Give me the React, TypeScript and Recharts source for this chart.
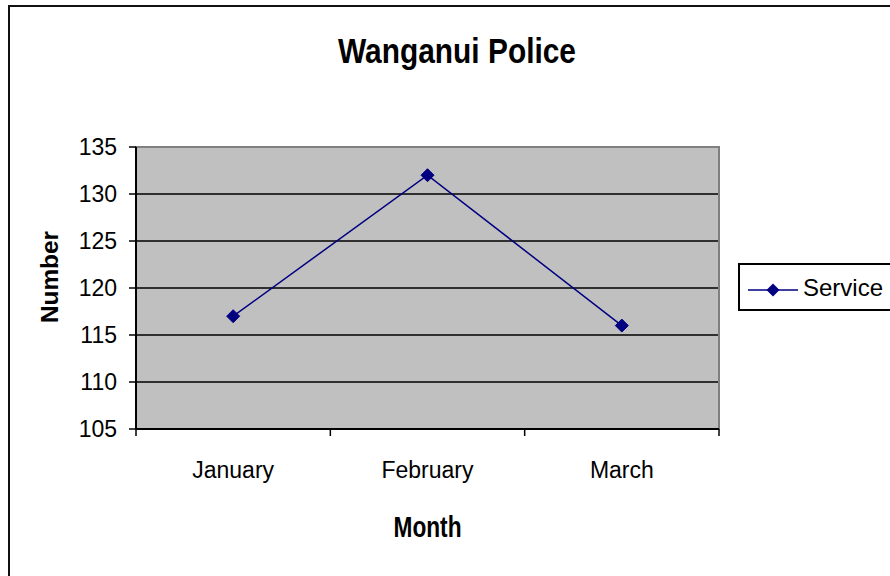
import { LineChart, Line, XAxis, YAxis, CartesianGrid, Legend, ReferenceArea } from 'recharts';

// values
const months = ['January', 'February', 'March'];
const service = [117, 132, 116];
const yTicks = [105, 110, 115, 120, 125, 130, 135];
const gridValues = [110, 115, 120, 125, 130];

const data = months.map((month, i) => ({ month, service: service[i] }));

const FONT = '"Liberation Sans", Arial, sans-serif';
const NAVY = '#000080';

// diamond marker like the old Excel series
const Diamond = (props: any) => {
  const { cx, cy } = props;
  if (cx == null || cy == null) return null;
  const r = 6.5;
  return <polygon points={`${cx},${cy - r} ${cx + r},${cy} ${cx},${cy + r} ${cx - r},${cy}`} fill={NAVY} stroke={NAVY} strokeWidth={1} />;
};

// category label in the middle, tick marks on the band edges
const MonthTick = (props: any) => {
  const { x, y, payload, index, visibleTicksCount } = props;
  const half = payload.offset || 0;
  const axisY = y - 33;
  const last = index === (visibleTicksCount ?? months.length) - 1;
  return (
    <g>
      <line x1={x - half} x2={x - half} y1={axisY} y2={axisY + 7} stroke="#000" strokeWidth={1.5} />
      {last && <line x1={x + half} x2={x + half} y1={axisY} y2={axisY + 7} stroke="#000" strokeWidth={1.5} />}
      <text x={x} y={y} dy="0.71em" textAnchor="middle" fontFamily={FONT} fontSize={23} fill="#000">
        {payload.value}
      </text>
    </g>
  );
};

const LegendBox = () => (
  <div
    style={{
      border: '2px solid #000',
      width: 170,
      height: 48,
      boxSizing: 'border-box',
      background: '#fff',
      display: 'flex',
      alignItems: 'center',
    }}
  >
    <svg width={60} height={44}>
      <line x1={8} x2={58} y1={25} y2={25} stroke={NAVY} strokeWidth={1.5} />
      <polygon points="33,18.5 39.5,25 33,31.5 26.5,25" fill={NAVY} />
    </svg>
    <span style={{ fontFamily: FONT, fontSize: 24, color: '#000', marginLeft: 3, marginTop: 1 }}>Service</span>
  </div>
);

export default function App() {
  return (
    <div style={{ position: 'fixed', left: 0, top: 0, width: 890, height: 576, overflow: 'hidden', background: '#fff' }}>
      {/* outer chart-area border, cut off at the right and bottom */}
      <div style={{ position: 'absolute', left: 8, top: 5, width: 1000, height: 1000, border: '2.5px solid #111' }} />
      <div style={{ position: 'absolute', left: 0, top: 0 }}>
        <LineChart width={890} height={576} data={data} margin={{ top: 147, right: 171, bottom: 47, left: 0 }}>
          <text x={457} y={63} textAnchor="middle" fontFamily={FONT} fontSize={35} fontWeight="bold" textLength={238} lengthAdjust="spacingAndGlyphs" fill="#000">
            Wanganui Police
          </text>
          <CartesianGrid fill="#c0c0c0" vertical={false} horizontalValues={gridValues} stroke="#000" strokeWidth={1.5} strokeOpacity={1} />
          <ReferenceArea y1={105} y2={135} fill="none" stroke="#808080" strokeWidth={2} ifOverflow="visible" />
          <XAxis
            dataKey="month"
            scale="band"
            height={100}
            tickLine={false}
            tickSize={0}
            tickMargin={33}
            axisLine={{ stroke: '#000', strokeWidth: 2 }}
            tick={<MonthTick />}
            interval={0}
            label={{
              content: (p: any) => {
                const vb = p.viewBox || {};
                return (
                  <text x={vb.x + vb.width / 2} y={vb.y + 108} textAnchor="middle" fontFamily={FONT} fontSize={29} fontWeight="bold" textLength={68} lengthAdjust="spacingAndGlyphs" fill="#000">
                    Month
                  </text>
                );
              },
            }}
          />
          <YAxis
            domain={[105, 135]}
            ticks={yTicks}
            width={136}
            tickSize={7}
            tickMargin={12}
            tickLine={{ stroke: '#000', strokeWidth: 1.5 }}
            axisLine={{ stroke: '#000', strokeWidth: 2 }}
            tick={{ fontFamily: FONT, fontSize: 23, fill: '#000' }}
            allowDataOverflow
            label={{
              content: (p: any) => {
                const vb = p.viewBox || {};
                const cy = vb.y + vb.height / 2 - 11;
                return (
                  <text x={58} y={cy} transform={`rotate(-90 58 ${cy})`} textAnchor="middle" fontFamily={FONT} fontSize={23} fontWeight="bold" textLength={92} lengthAdjust="spacingAndGlyphs" fill="#000">
                    Number
                  </text>
                );
              },
            }}
          />
          <Legend
            layout="horizontal"
            verticalAlign="middle"
            align="center"
            wrapperStyle={{ left: 738, top: 263, width: 170, height: 48 }}
            content={() => <LegendBox />}
          />
          <Line
            dataKey="service"
            name="Service"
            stroke={NAVY}
            strokeWidth={1.5}
            dot={<Diamond />}
            activeDot={false}
            isAnimationActive={false}
          />
        </LineChart>
      </div>
    </div>
  );
}
